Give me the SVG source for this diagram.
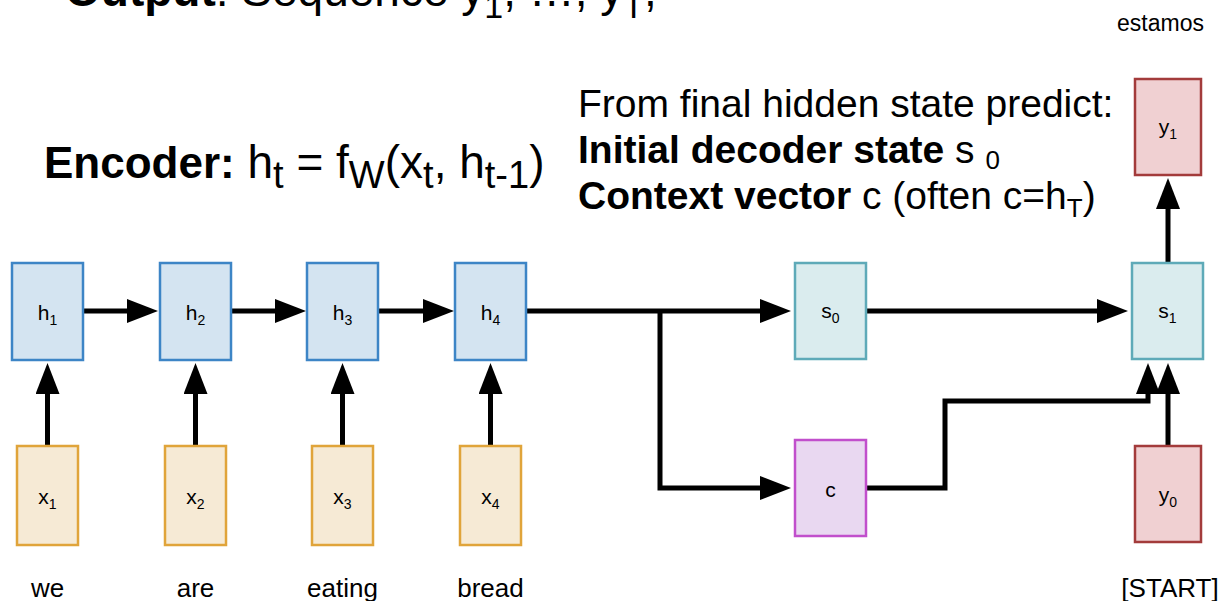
<svg xmlns="http://www.w3.org/2000/svg" width="1220" height="601" viewBox="0 0 1220 601">
<style>
text{font-family:"Liberation Sans",Arial,sans-serif;fill:#000}
.b{font-weight:bold}
.lbl{font-size:21px;text-anchor:middle}
.sub{font-size:14px}
.word{font-size:26px;text-anchor:middle}
.h{fill:#d4e4f1;stroke:#3d85c6;stroke-width:2.5}
.s{fill:#daecee;stroke:#5eaab8;stroke-width:2.5}
.x{fill:#f6ead5;stroke:#e0a43a;stroke-width:2.5}
.y{fill:#f0d0d2;stroke:#a33b3b;stroke-width:2.5}
.c{fill:#e9d8f1;stroke:#c14fcc;stroke-width:2.5}
.conn path{fill:none;stroke:#000;stroke-width:5;marker-end:url(#ah)}
</style>
<defs>
<marker id="ah" markerUnits="userSpaceOnUse" markerWidth="32" markerHeight="25" refX="0" refY="12" orient="auto">
<path d="M0,0 L31,12 L0,24 z" fill="#000"/>
</marker>
</defs>
<rect width="1220" height="601" fill="#fff"/>

<g id="titles">
<text x="65" y="6" font-size="46"><tspan class="b">Output</tspan><tspan>: Sequence y</tspan><tspan font-size="34" dy="12">1</tspan><tspan dy="-12">, …, y</tspan><tspan font-size="34" dy="12">T</tspan><tspan dy="-12">,</tspan></text>
<text x="1117" y="31" font-size="23">estamos</text>
<text x="44" y="178" font-size="46"><tspan class="b" font-size="44">Encoder:</tspan><tspan> h</tspan><tspan font-size="38" dy="10">t</tspan><tspan dy="-10"> = f</tspan><tspan font-size="38" dy="10">W</tspan><tspan dy="-10">(x</tspan><tspan font-size="38" dy="10">t</tspan><tspan dy="-10">, h</tspan><tspan font-size="38" dy="10">t-1</tspan><tspan dy="-10">)</tspan></text>
<text x="578" y="117" font-size="39">From final hidden state predict:</text>
<text x="578" y="163" font-size="39"><tspan class="b">Initial decoder state</tspan><tspan> s </tspan><tspan font-size="26" dy="6">0</tspan></text>
<text x="578" y="209" font-size="39"><tspan class="b">Context vector</tspan><tspan> c (often c=h</tspan><tspan font-size="26" dy="8">T</tspan><tspan dy="-8">)</tspan></text>
</g>

<g class="conn" id="connectors">
<path d="M83,311 H127"/>
<path d="M231,311 H275"/>
<path d="M378,311 H423"/>
<path d="M526,311 H760"/>
<path d="M660,311 V488 H760"/>
<path d="M866,311 H1097"/>
<path d="M866,488 H945 V401 H1148 V394"/>
<path d="M1168,446 V394"/>
<path d="M1168,263 V209"/>
<path d="M47.5,446 V394"/>
<path d="M195.5,446 V394"/>
<path d="M342.5,446 V394"/>
<path d="M490.5,446 V394"/>
</g>

<g id="h1"><rect class="h" x="12" y="263" width="71" height="97"/><text class="lbl" x="47.5" y="320">h<tspan class="sub" dy="5">1</tspan></text></g>
<g id="h2"><rect class="h" x="160" y="263" width="71" height="97"/><text class="lbl" x="195.5" y="320">h<tspan class="sub" dy="5">2</tspan></text></g>
<g id="h3"><rect class="h" x="307" y="263" width="71" height="97"/><text class="lbl" x="342.5" y="320">h<tspan class="sub" dy="5">3</tspan></text></g>
<g id="h4"><rect class="h" x="455" y="263" width="71" height="97"/><text class="lbl" x="490.5" y="320">h<tspan class="sub" dy="5">4</tspan></text></g>

<g id="x1"><rect class="x" x="17" y="446" width="61" height="99"/><text class="lbl" x="47.5" y="504">x<tspan class="sub" dy="5">1</tspan></text></g>
<g id="x2"><rect class="x" x="165" y="446" width="61" height="99"/><text class="lbl" x="195.5" y="504">x<tspan class="sub" dy="5">2</tspan></text></g>
<g id="x3"><rect class="x" x="312" y="446" width="61" height="99"/><text class="lbl" x="342.5" y="504">x<tspan class="sub" dy="5">3</tspan></text></g>
<g id="x4"><rect class="x" x="460" y="446" width="61" height="99"/><text class="lbl" x="490.5" y="504">x<tspan class="sub" dy="5">4</tspan></text></g>

<g id="s0"><rect class="s" x="795" y="263" width="71" height="96"/><text class="lbl" x="830.5" y="318">s<tspan class="sub" dy="5">0</tspan></text></g>
<g id="c"><rect class="c" x="795" y="440" width="71" height="96"/><text class="lbl" x="830.5" y="497">c</text></g>
<g id="s1"><rect class="s" x="1132" y="263" width="71" height="96"/><text class="lbl" x="1167.5" y="318">s<tspan class="sub" dy="5">1</tspan></text></g>
<g id="y1"><rect class="y" x="1135" y="79" width="66" height="96"/><text class="lbl" x="1168" y="134">y<tspan class="sub" dy="5">1</tspan></text></g>
<g id="y0"><rect class="y" x="1135" y="446" width="66" height="96"/><text class="lbl" x="1168" y="502">y<tspan class="sub" dy="5">0</tspan></text></g>

<g id="words">
<text class="word" x="47.5" y="597">we</text>
<text class="word" x="195.5" y="597">are</text>
<text class="word" x="342.5" y="597">eating</text>
<text class="word" x="490.5" y="597">bread</text>
<text class="word" x="1170" y="597">[START]</text>
</g>
</svg>
